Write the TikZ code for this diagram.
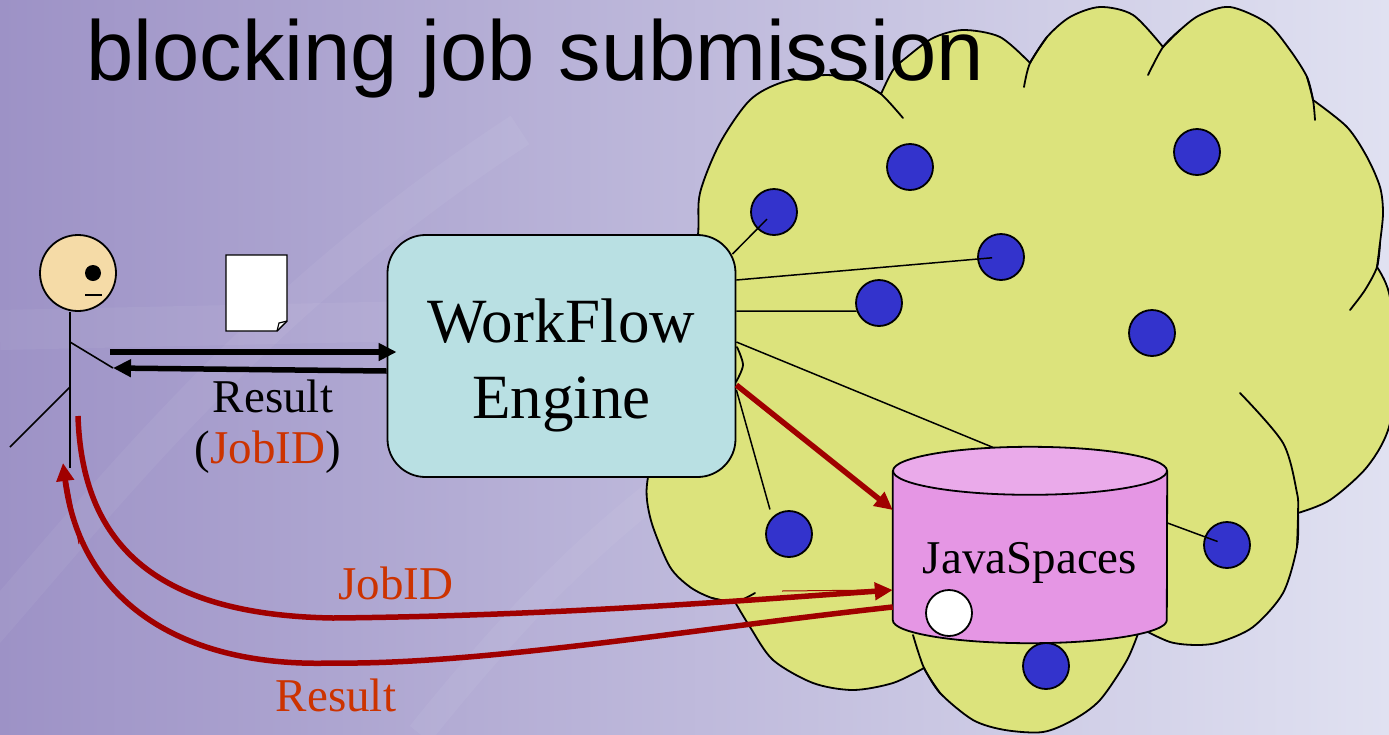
\documentclass[tikz,border=0pt]{standalone}
\usepackage{fontspec}
\setmainfont{Liberation Serif}
\newfontfamily\titlefont{Liberation Sans}
\usetikzlibrary{arrows.meta,positioning}

\definecolor{bgleft}{HTML}{9D92C6}
\definecolor{bgmid}{HTML}{B5AED7}
\definecolor{bgright}{HTML}{E0E1F1}
\definecolor{cloudfill}{HTML}{DCE37C}
\definecolor{nodeblue}{HTML}{3333CC}
\definecolor{enginefill}{HTML}{B9E0E3}
\definecolor{spacebody}{HTML}{E596E4}
\definecolor{spacetop}{HTML}{EAAAEA}
\definecolor{flowred}{HTML}{A00000}
\definecolor{jobred}{HTML}{CC3300}
\definecolor{skin}{HTML}{F5DBA7}

\tikzset{
  cloud/.style={fill=cloudfill, draw, line width=1.8pt, line join=round},
  cloudline/.style={draw, line width=1.8pt, line cap=round},
  dot/.style={circle, draw, line width=1.8pt, fill=nodeblue, minimum size=46pt, inner sep=0pt},
  wire/.style={line width=1.5pt},
  engine/.style={rectangle, rounded corners=38pt, draw, line width=1.8pt, fill=enginefill,
    minimum width=348pt, minimum height=242pt},
  lbl/.style={font=\fontsize{47}{50}\selectfont, inner sep=0pt},
  msg/.style={line width=5.5pt, -{Triangle[length=18pt,width=17pt]}},
  flow/.style={draw=flowred, line width=5.5pt, -{Triangle[length=18pt,width=17pt]}},
  stick/.style={line width=1.6pt},
}

\begin{document}
\begin{tikzpicture}[x=1pt,y=1pt]
    \useasboundingbox (0,0) rectangle (1389,-734);
    \shade[left color=bgleft, middle color=bgmid, right color=bgright] (0,0) rectangle (1389,-734);
    % faint swooshes in the backdrop
    \draw[white, opacity=.05, line width=34pt] (-20,-640) .. controls (120,-480) and (260,-300) .. (520,-130);
    \draw[white, opacity=.05, line width=26pt] (420,-734) .. controls (560,-560) and (700,-420) .. (1000,-300);
    \draw[white, opacity=.05, line width=40pt] (0,-330) -- (1389,-300);

    % the grid cloud
    \filldraw[cloud] plot[smooth] coordinates {(660,-420) (690,-300) (698,-235) (700,-193) (720,-143) (750,-100) (783,-82) (827,-75) (860,-82) (881,-94)}
        -- plot[smooth] coordinates {(881,-94) (893,-70) (907,-57) (933,-38) (963,-30) (1000,-37) (1030,-63)}
        -- plot[smooth] coordinates {(1030,-63) (1047,-37) (1070,-17) (1100,-7) (1133,-15) (1163,-47)}
        -- plot[smooth] coordinates {(1163,-47) (1180,-30) (1200,-15) (1230,-7) (1267,-23) (1290,-50) (1307,-77) (1313,-100)}
        -- plot[smooth] coordinates {(1313,-100) (1347,-127) (1367,-157) (1380,-187) (1383,-213) (1380,-243) (1377,-267)}
        -- plot[smooth] coordinates {(1377,-267) (1389,-293) (1398,-360) (1389,-427) (1367,-467) (1330,-500) (1298,-513)}
        -- plot[smooth] coordinates {(1298,-513) (1297,-547) (1283,-593) (1253,-627) (1220,-642) (1197,-645) (1170,-642) (1140,-628)}
        -- plot[smooth] coordinates {(1140,-628) (1127,-660) (1100,-700) (1073,-720) (1043,-732) (1005,-730) (973,-720) (940,-693) (924,-668)}
        -- plot[smooth] coordinates {(924,-668) (893,-683) (853,-690) (813,-683) (773,-660) (750,-627) (735,-602)}
        -- plot[smooth] coordinates {(735,-602) (712,-598) (690,-587) (670,-567) (653,-527) (647,-500) (648,-477) (660,-420)} -- cycle;
    \draw[cloudline] plot[smooth] coordinates {(860,-82) (881,-94) (903,-118)};
    \draw[cloudline] plot[smooth] coordinates {(1024,-87) (1030,-63) (1047,-37)};
    \draw[cloudline] plot[smooth] coordinates {(1148,-75) (1163,-47) (1180,-30)};
    \draw[cloudline] plot[smooth] coordinates {(1307,-77) (1313,-100) (1315,-120)};
    \draw[cloudline] plot[smooth] coordinates {(1380,-243) (1377,-267) (1365,-290) (1350,-310)};
    \draw[cloudline] plot[smooth] coordinates {(1240,-393) (1283,-443) (1297,-493) (1298,-513) (1297,-547)};
    \draw[cloudline] plot[smooth] coordinates {(913,-635) (924,-668) (940,-693)};
    \draw[cloudline] plot[smooth] coordinates {(712,-598) (735,-602) (755,-593)};
    \draw[cloudline] plot[smooth] coordinates {(737,-347) (743,-365) (736,-382)};

    % worker nodes
    \node[dot] (d1) at (774,-212) {};
    \node[dot] (d2) at (910,-167) {};
    \node[dot] (d3) at (1001,-257) {};
    \node[dot] (d4) at (879,-303) {};
    \node[dot] (d5) at (1197,-152) {};
    \node[dot] (d6) at (1152,-333) {};
    \node[dot] (d7) at (789,-534) {};
    \node[dot] (d8) at (1227,-545) {};
    \node[dot] (d9) at (1046,-666) {};

    \node[engine] (wf) at (561.5,-356) {};
    \node[font=\fontsize{63}{76}\selectfont, align=center] (wftext) at ([yshift=-9pt]wf.center) {WorkFlow\\Engine};
    \node[inner sep=0pt, minimum width=274pt, minimum height=149pt] (space) at (1030,-545.5) {};

    % links from the engine
    \begin{scope}[wire]
        \draw[shorten >=10pt] ([shift={(-4,-20)}]wf.north east) -- (d1.center);
        \draw[shorten >=9pt] ([yshift=76pt]wf.east) -- (d3.center);
        \draw ([yshift=45pt]wf.east) -- (d4.200);
        \draw ([yshift=14pt]wf.east) -- ([xshift=20pt]space.north);
        \draw[shorten >=8pt] ([yshift=-34pt]wf.east) -- (d7.135);
        \draw[shorten >=10pt] ([shift={(-20,30)}]space.east) -- (d8.center);
    \end{scope}

    % JavaSpaces store
    \fill[spacebody] (space.north west) -- (space.south west)
        arc[start angle=180, end angle=360, x radius=137, y radius=23] -- (space.north east) -- cycle;
    \draw[line width=1.8pt] (space.north west) -- (space.south west)
        arc[start angle=180, end angle=360, x radius=137, y radius=23] -- (space.north east);
    \filldraw[fill=spacetop, line width=1.8pt] (space.north) ellipse[x radius=137, y radius=24];
    \node[lbl, anchor=base] (js) at (1030,-573) {JavaSpaces};
    \node[circle, draw, line width=1.8pt, fill=white, minimum size=46pt, inner sep=0pt] (entry) at (949,-613) {};

    \draw[flow] ([yshift=-29pt]wf.east) -- ([yshift=35.5pt]space.west);

    % the user
    \node[circle, draw, line width=1.8pt, fill=skin, minimum size=76pt, inner sep=0pt] (user) at (78,-273) {};
    \fill ([xshift=15pt]user.center) circle[radius=8];
    \draw[stick] ([shift={(7,-22)}]user.center) -- ++(17,0);
    \draw[stick] ([xshift=-8pt]user.south) -- ++(0,-156);
    \coordinate (hand) at (113,-368);
    \coordinate (req) at (110,-352);
    \draw[stick] (70,-342) -- (hand);
    \draw[stick] (70,-387) -- (10,-447);

    % job document
    \filldraw[fill=white, line width=1.4pt] (226,-255) coordinate (doc) -- (287,-255) -- (287,-321) -- (277,-331) -- (226,-331) -- cycle;
    \draw[line width=1.2pt] (277,-331) -- (279,-323) -- (287,-321);

    \draw[msg] (req) -- ([shift={(10,4)}]wf.west);
    \draw[msg] ([yshift=-15pt]wf.west) -- (hand);
    \node[lbl, anchor=base] (reslbl) at (273,-412) {Result};
    \node[lbl, anchor=base] (idlbl) at (268,-463) {(\textcolor{jobred}{JobID})};

    % round trip through the space
    \coordinate (ask) at (78,-416);
    \coordinate (back) at (63,-463);
    \draw[flow] (ask) .. controls (82,-540) and (150,-615) .. (333,-618)
        .. controls (550,-616) and (750,-600) .. ([yshift=-44.5pt]space.west);
    \draw[flow] ([yshift=-61.5pt]space.west) .. controls (700,-628) and (480,-665) .. (333,-663)
        .. controls (180,-668) and (80,-600) .. (back);
    \draw[flowred, line width=1pt] (782,-591) -- (880,-590);
    \draw[flowred, line width=1pt] (79,-544) -- (66,-472);
    \node[lbl, anchor=base, text=jobred] (jobid) at (396,-599) {JobID};
    \node[lbl, anchor=base, text=jobred] (result) at (336,-711) {Result};

    \node[anchor=base west, inner sep=0pt, font=\titlefont\fontsize{85}{90}\selectfont] (title) at (86,-80) {blocking job submission};
\end{tikzpicture}
\end{document}
